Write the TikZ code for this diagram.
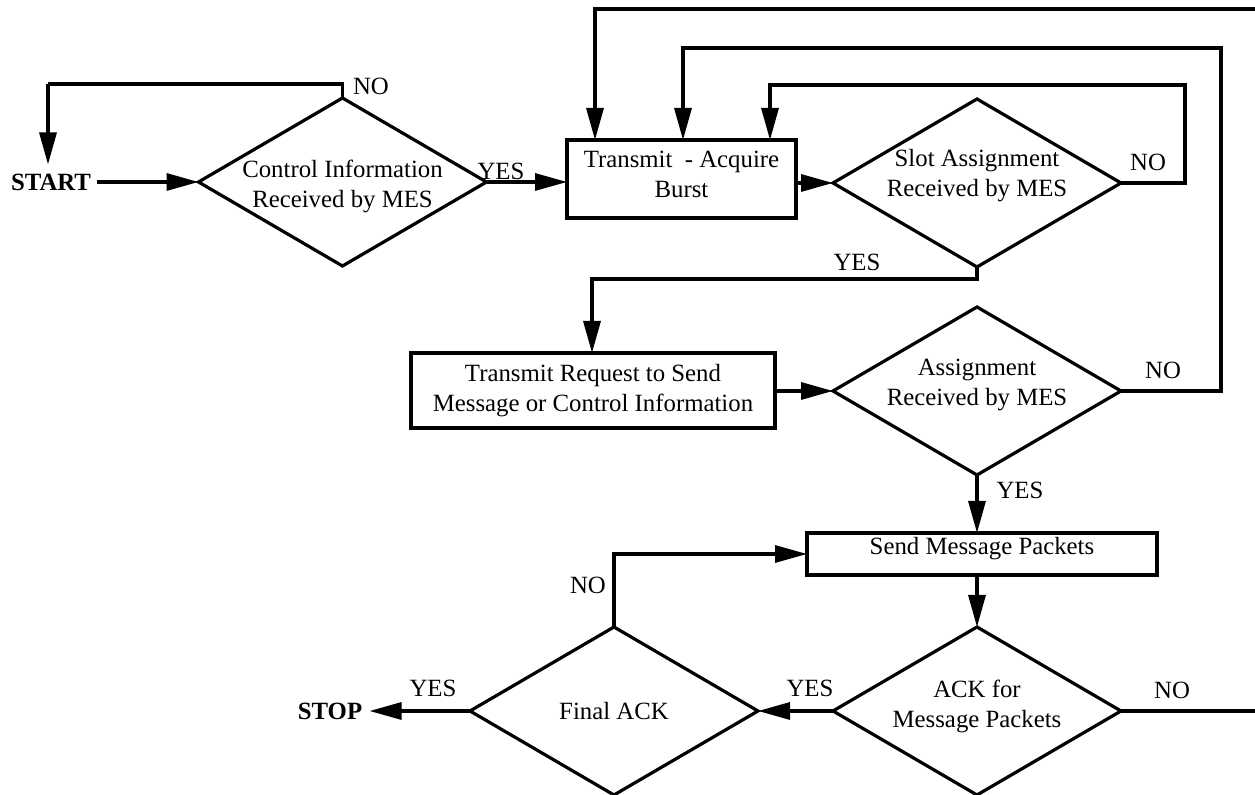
\documentclass[tikz,border=0pt]{standalone}
\usepackage{fontspec}
\setmainfont{Liberation Serif}
\usetikzlibrary{shapes.geometric,arrows.meta}
\begin{document}
\begin{tikzpicture}[x=0.5pt,y=-0.5pt,
  every node/.style={font=\fontsize{12.4}{15}\selectfont},
  line/.style={line width=1.6pt},
  arr/.style={line width=1.6pt,-{Triangle[length=16pt,width=8.5pt]}},
  dia/.style={diamond,draw,line width=1.6pt,minimum width=144pt,minimum height=84pt,inner sep=0pt,outer sep=0pt},
  box/.style={rectangle,draw,line width=1.6pt,inner sep=0pt,outer sep=0pt},
  txt/.style={align=center,inner sep=0pt},
  lbl/.style={inner sep=0pt},
  term/.style={font=\fontsize{12.4}{15}\selectfont\bfseries}
]
\useasboundingbox (0,0) rectangle (1255,795);

% terminals
\node[term,inner xsep=3pt,inner ysep=4.4pt] (start) at (51,182) {START};
\node[term,inner xsep=3.5pt,inner ysep=2pt] (stop) at (330,711) {STOP};

% decisions
\node[dia,label={[txt,yshift=-2pt]center:Control Information\\Received by MES}] (d1) at (342.5,182) {};
\node[dia,label={[txt,yshift=3.5pt]center:Slot Assignment\\Received by MES}] (d2) at (977,183) {};
\node[dia,label={[txt,yshift=3pt]center:Assignment\\Received by MES}] (d4) at (977,391) {};
\node[dia,label={[txt,yshift=2.5pt]center:ACK for\\Message Packets}] (d5) at (977,711) {};
\node[dia,label={[txt]center:Final ACK}] (d6) at (614,711) {};

% processes
\node[box,minimum width=114.5pt,minimum height=39pt,label={[txt,yshift=2.5pt]center:Transmit~ - Acquire\\Burst}] (b1) at (681.5,179) {};
\node[box,minimum width=182pt,minimum height=37.5pt,label={[txt]center:Transmit Request to Send\\Message or Control Information}] (b2) at (593,390.5) {};
\node[box,minimum width=175pt,minimum height=21pt,label={[txt,yshift=2.5pt]center:Send Message Packets}] (b3) at (982,554) {};

% helper coordinates
\coordinate (n1) at (48,84);
\coordinate (c2) at (1185,85);
\coordinate (c2b) at (770,85);
\coordinate (c4) at (1221,48);
\coordinate (c4b) at (683,48);
\coordinate (e1) at (1255,9);
\coordinate (c1b) at (595,9);
\coordinate (c3) at (592,279);
\coordinate (e2) at (1255,711);

% connectors
\draw[line] (d1.north) |- (n1);
\draw[arr] (n1) -- (n1 |- start.north);
\draw[arr] (start.east) -- (d1.west);
\draw[arr] (d1.east) -- (d1.east -| b1.west);
\draw[arr] (d2.west -| b1.east) -- (d2.west);
\draw[arr] (d2.east) -| (c2) -- (c2b) -- (c2b |- b1.north);
\draw[arr] (d4.east) -| (c4) -- (c4b) -- (c4b |- b1.north);
\draw[arr] (e1) -- (c1b) -- (c1b |- b1.north);
\draw[arr] (d2.south) |- (c3) -- (c3 |- b2.north);
\draw[arr] (b2.east |- d4.west) -- (d4.west);
\draw[arr] (d4.south) -- (d4.south |- b3.north);
\draw[arr] (d5.north |- b3.south) -- (d5.north);
\draw[arr] (d5.west) -- (d6.east);
\draw[line] (d5.east) -- (e2);
\draw[arr] (d6.west) -- (stop.east);
\draw[arr] (d6.north) |- (b3.west);

% branch labels
\node[lbl] (l1) at (371,86) {NO};
\node[lbl] (l2) at (501,171) {YES};
\node[lbl] (l3) at (1148,162) {NO};
\node[lbl] (l4) at (857,262) {YES};
\node[lbl] (l5) at (1163,370) {NO};
\node[lbl] (l6) at (1020,490) {YES};
\node[lbl] (l7) at (588,585) {NO};
\node[lbl] (l8) at (433,688) {YES};
\node[lbl] (l9) at (810,688) {YES};
\node[lbl] (l10) at (1172,690) {NO};
\end{tikzpicture}
\end{document}
